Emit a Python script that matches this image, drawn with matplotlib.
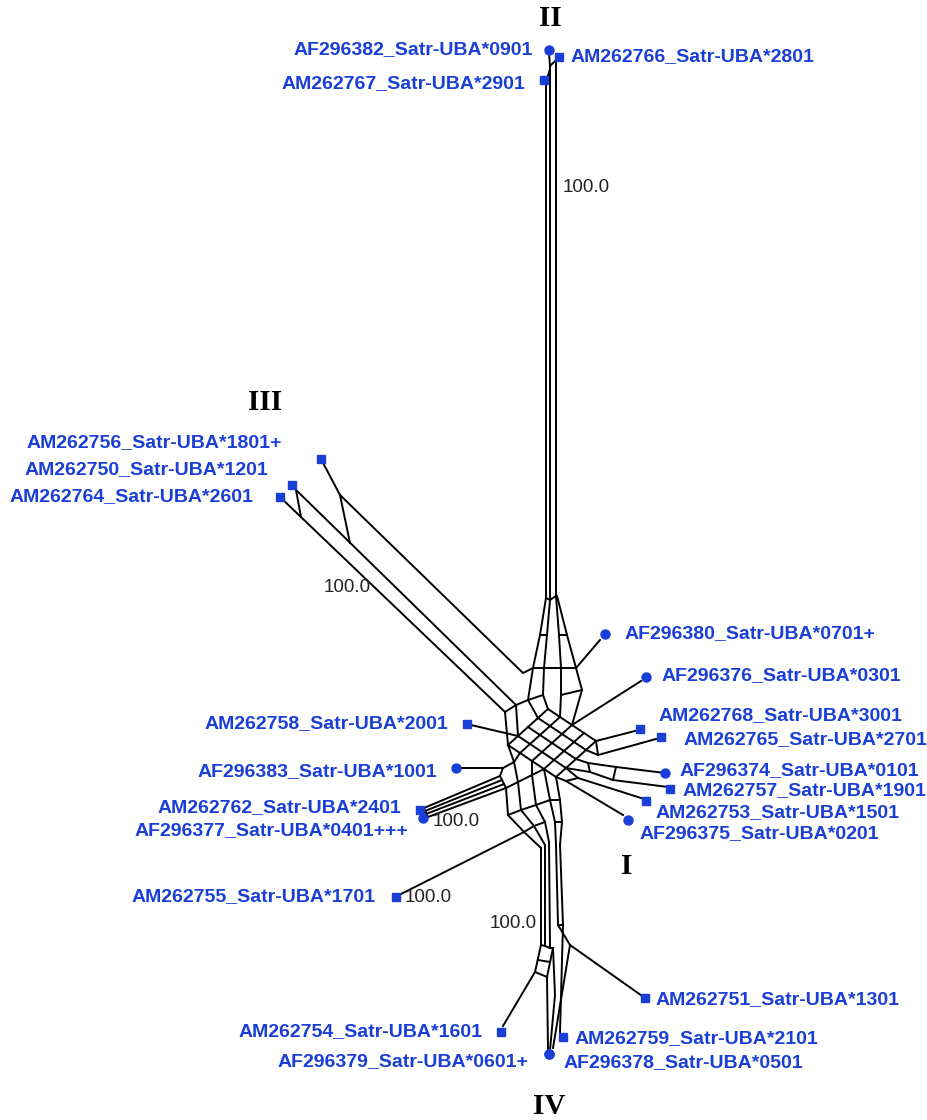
import matplotlib.pyplot as plt

# Split network (SplitsTree style) - coordinates, in pixels
# taxa: name, node x, node y, marker
taxon_names = ["AF296382_Satr-UBA*0901", "AM262766_Satr-UBA*2801", "AM262767_Satr-UBA*2901",
               "AM262756_Satr-UBA*1801+", "AM262750_Satr-UBA*1201", "AM262764_Satr-UBA*2601",
               "AF296380_Satr-UBA*0701+", "AF296376_Satr-UBA*0301", "AM262768_Satr-UBA*3001",
               "AM262758_Satr-UBA*2001", "AM262765_Satr-UBA*2701", "AF296374_Satr-UBA*0101",
               "AF296383_Satr-UBA*1001", "AM262757_Satr-UBA*1901", "AM262762_Satr-UBA*2401",
               "AM262753_Satr-UBA*1501", "AF296377_Satr-UBA*0401+++", "AF296375_Satr-UBA*0201",
               "AM262755_Satr-UBA*1701", "AM262751_Satr-UBA*1301", "AM262754_Satr-UBA*1601",
               "AM262759_Satr-UBA*2101", "AF296379_Satr-UBA*0601+", "AF296378_Satr-UBA*0501"]
taxon_x = [549, 559, 544, 321, 292, 280, 605, 646, 640, 467, 661, 665,
           456, 670, 420, 646, 423, 628, 396, 645, 501, 563, 549, 549]
taxon_y = [50, 57, 80, 459, 485, 497, 634, 677, 729, 724, 737, 773,
           768, 789, 810, 801, 818, 820, 897, 998, 1032, 1037, 1054, 1054]
taxon_marker = ["o", "s", "s", "s", "s", "s", "o", "o", "s", "s", "s", "o",
                "o", "s", "s", "s", "o", "o", "s", "s", "s", "s", "o", "o"]

# network edges as polylines
network_paths = [
    # clade II
    [(549, 53), (550, 66), (550, 600)],
    [(550, 66), (556, 60), (559, 57)],
    [(556, 60), (556, 596)],
    [(544, 80), (546, 82), (546, 598)],
    [(546, 82), (550, 69)],
    [(546, 598), (550, 600), (556, 596)],
    # upper fan
    [(546, 598), (540, 635), (533, 668), (528, 700), (538, 718)],
    [(550, 600), (547, 635), (544, 668), (543, 695), (548, 709)],
    [(556, 596), (559, 635), (561, 668), (561, 695), (560, 717)],
    [(557, 596), (567, 635), (576, 668), (582, 690), (572, 725)],
    [(540, 635), (547, 635)], [(559, 635), (567, 635)],
    [(533, 668), (544, 668)], [(544, 668), (561, 668)], [(561, 668), (576, 668)],
    [(528, 700), (543, 695)], [(561, 695), (582, 690)],
    [(576, 668), (600, 640)],
    # clade III
    [(321, 459), (340, 495), (523, 673), (533, 668)],
    [(292, 486), (516, 705), (518, 736)],
    [(280, 497), (505, 712), (508, 745)],
    [(296, 490), (301, 517)], [(340, 495), (350, 543)],
    [(505, 712), (516, 705), (528, 700)],
    # central mesh
    [(508, 745), (518, 736), (528, 727), (538, 718), (548, 709)],
    [(520, 753), (530, 744), (540, 735), (550, 726), (560, 717)],
    [(532, 761), (542, 752), (552, 743), (562, 734), (572, 725)],
    [(544, 769), (554, 760), (564, 751), (574, 742), (584, 733)],
    [(556, 777), (566, 768), (576, 759), (586, 750), (596, 741)],
    [(508, 745), (520, 753), (532, 761), (544, 769), (556, 777)],
    [(518, 736), (530, 744), (542, 752), (554, 760), (566, 768)],
    [(528, 727), (540, 735), (552, 743), (564, 751), (576, 759)],
    [(538, 718), (550, 726), (562, 734), (574, 742), (586, 750)],
    [(548, 709), (560, 717), (572, 725), (584, 733), (596, 741)],
    # left side taxa
    [(471, 725), (518, 736)],
    [(460, 768), (503, 768), (514, 762), (520, 753)],
    [(514, 762), (508, 745)],
    [(424, 808), (500, 776), (503, 768)],
    [(425, 811), (502, 780)],
    [(426, 814), (504, 784)],
    [(428, 817), (506, 788)],
    [(420, 810), (424, 808), (428, 817), (423, 818)],
    [(399, 895), (524, 832)],
    # lower fan
    [(506, 788), (508, 815), (524, 832), (541, 848)],
    [(514, 762), (518, 782), (521, 810), (534, 826), (545, 845)],
    [(532, 761), (532, 775), (536, 805), (545, 822), (549, 842)],
    [(544, 769), (550, 800), (555, 822), (556, 845)],
    [(556, 777), (560, 800), (562, 822), (560, 845)],
    [(506, 788), (518, 782), (532, 775), (544, 769)],
    [(508, 815), (521, 810), (536, 805), (550, 800), (560, 800)],
    [(524, 832), (534, 826), (545, 822)], [(555, 822), (562, 822)],
    [(500, 776), (502, 780), (504, 784), (506, 788)],
    # right side taxa
    [(572, 725), (641, 681)],
    [(596, 741), (635, 731)],
    [(586, 750), (598, 755), (656, 739)],
    [(596, 741), (598, 755)],
    [(576, 759), (588, 763), (616, 767), (665, 773)],
    [(566, 768), (590, 772), (613, 780), (668, 787)],
    [(588, 763), (590, 772)], [(616, 767), (613, 780)],
    [(566, 768), (578, 778), (641, 798)],
    [(556, 777), (566, 781), (623, 815)],
    [(566, 781), (578, 778)],
    # clade IV
    [(541, 848), (541, 945), (535, 972), (503, 1026)],
    [(545, 845), (545, 946)],
    [(549, 842), (550, 948), (553, 948), (547, 977), (548, 1050)],
    [(541, 945), (545, 946), (550, 948)],
    [(535, 972), (547, 977)], [(538, 960), (550, 962)],
    [(553, 948), (555, 995), (550, 1050)],
    [(556, 845), (558, 925), (570, 945), (645, 998)],
    [(570, 945), (553, 1048)],
    [(560, 845), (563, 925), (560, 1032)],
    [(558, 925), (563, 925)],
]

# labels: x, y, alignment
label_pos = [(533, 50, "right"), (571, 57, "left"), (525, 84, "right"),
             (282, 443, "right"), (268, 470, "right"), (253, 497, "right"),
             (625, 634, "left"), (662, 676, "left"), (659, 716, "left"),
             (448, 724, "right"), (684, 740, "left"), (680, 771, "left"),
             (437, 772, "right"), (683, 791, "left"), (401, 808, "right"),
             (656, 813, "left"), (408, 831, "right"), (640, 834, "left"),
             (376, 897, "right"), (656, 1000, "left"), (483, 1032, "right"),
             (575, 1039, "left"), (528, 1062, "right"), (564, 1063, "left")]

clade_names = ["II", "III", "I", "IV"]
clade_pos = [(550, 18), (265, 402), (627, 867), (549, 1106)]

support_values = ["100.0", "100.0", "100.0", "100.0", "100.0"]
support_pos = [(563, 187), (324, 588), (433, 822), (405, 898), (490, 923)]

blue = "#1a3fd6"

fig = plt.figure(figsize=(9.28, 11.2), dpi=100)
ax = fig.add_axes([0, 0, 1, 1])
ax.set_xlim(0, 928)
ax.set_ylim(1120, 0)
ax.axis("off")

for path in network_paths:
    xs = [p[0] for p in path]
    ys = [p[1] for p in path]
    ax.plot(xs, ys, color="black", lw=1.4, solid_joinstyle="miter", zorder=1)

for x, y, m in zip(taxon_x, taxon_y, taxon_marker):
    ax.plot(x, y, marker=m, color=blue, ms=6.5 if m == "o" else 6, ls="none", zorder=3)

for name, (lx, ly, ha) in zip(taxon_names, label_pos):
    ax.text(lx, ly, name, ha=ha, va="center", color=blue, fontsize=14,
            fontweight="bold", family="Liberation Sans")

for name, (cx, cy) in zip(clade_names, clade_pos):
    ax.text(cx, cy, name, ha="center", va="center", fontsize=21,
            fontweight="bold", family="Liberation Serif", color="black")

for val, (sx, sy) in zip(support_values, support_pos):
    ax.text(sx, sy, val, ha="left", va="center", fontsize=13.5,
            family="Liberation Sans", color="#222222")

fig.savefig("out.png", dpi=100)
